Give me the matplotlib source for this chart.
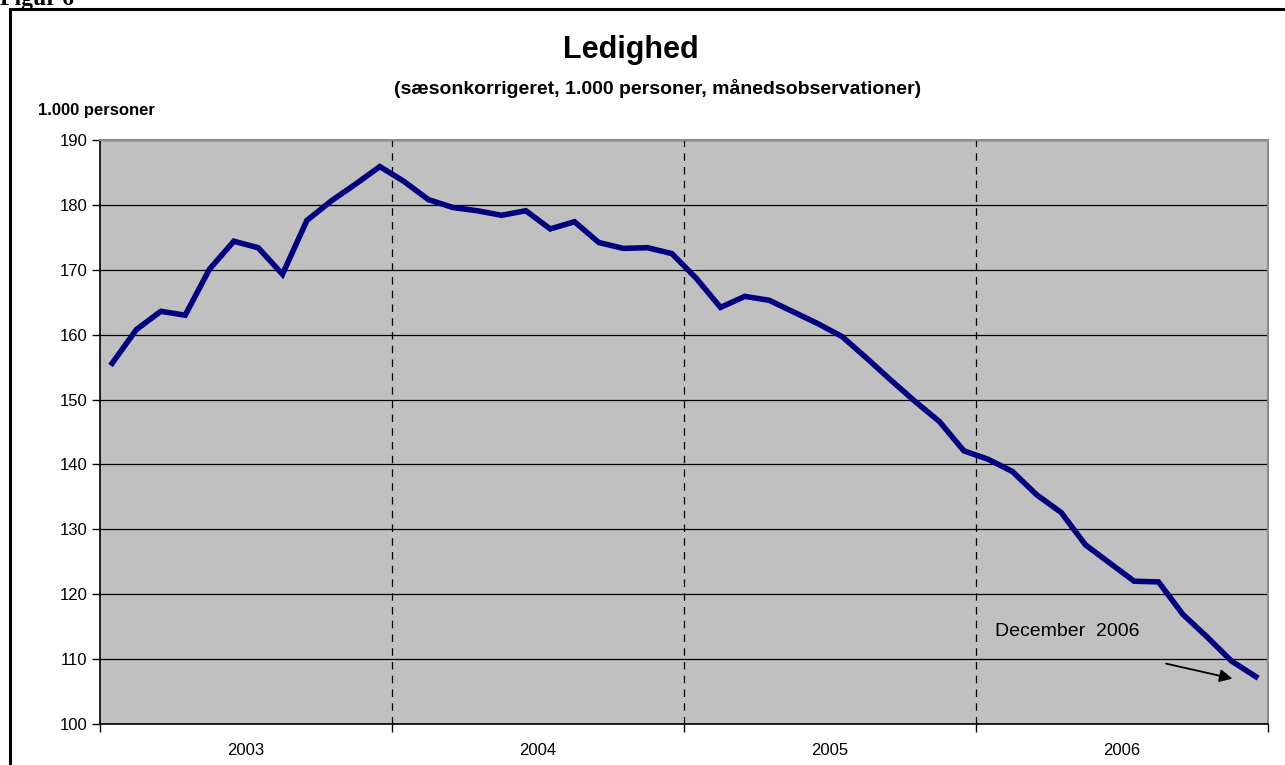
import numpy as np
import matplotlib
matplotlib.use('Agg')
import matplotlib.pyplot as plt
from matplotlib.patches import Rectangle

plt.rcParams['font.family'] = ['Liberation Sans', 'DejaVu Sans']

# monthly unemployment, seasonally adjusted (1.000 persons), Jan 2003 - Dec 2006
years = ['2003', '2004', '2005', '2006']
ledighed = [
    155.6, 160.8, 163.6, 163.0, 170.1, 174.4, 173.4, 169.3, 177.6, 180.6, 183.2, 185.9,
    183.6, 180.8, 179.6, 179.1, 178.4, 179.1, 176.3, 177.4, 174.2, 173.3, 173.4, 172.5,
    168.7, 164.2, 165.9, 165.3, 163.5, 161.7, 159.7, 156.4, 153.0, 149.7, 146.6, 142.1,
    140.8, 138.9, 135.3, 132.6, 127.6, 124.8, 122.0, 121.9, 116.9, 113.4, 109.7, 107.3,
]
y_ticks = list(range(100, 191, 10))

W, H = 1285, 765
fig = plt.figure(figsize=(W / 100, H / 100), dpi=100)

# axes placed in pixel terms
left, right, top, bottom = 100, 1268, 140, 724
ax = fig.add_axes([left / W, 1 - bottom / H, (right - left) / W, (bottom - top) / H])
ax.set_facecolor('#c0c0c0')

x = np.arange(len(ledighed)) + 0.5
ax.plot(x, ledighed, color='#000080', linewidth=4.0, solid_joinstyle='miter', zorder=3)

ax.set_xlim(0, len(ledighed))
ax.set_ylim(100, 190)
ax.set_yticks(y_ticks)
ax.yaxis.grid(True, color='black', linewidth=0.9)
ax.set_axisbelow(True)

# year dividers
for b in [12, 24, 36]:
    ax.axvline(b, color='black', linewidth=0.9, linestyle=(0, (6, 5)), zorder=2)

ax.set_xticks([0, 12, 24, 36, 48])
ax.set_xticklabels([])
ax.set_xticks([6, 18, 30, 42], minor=True)
ax.set_xticklabels(years, minor=True)
ax.tick_params(axis='x', which='major', length=6, width=1, direction='out')
ax.tick_params(axis='x', which='minor', length=0, pad=14, labelsize=12)
ax.tick_params(axis='y', length=6, width=1, labelsize=12, pad=3)

for s in ['left', 'bottom']:
    ax.spines[s].set_color('black')
    ax.spines[s].set_linewidth(1.2)
for s in ['top', 'right']:
    ax.spines[s].set_color('#8c8c8c')
    ax.spines[s].set_linewidth(1.5)

ax.annotate('', xy=(46.65, 106.9), xytext=(43.7, 109.4),
            arrowprops=dict(arrowstyle='-|>', color='black', lw=1.3, mutation_scale=19))
ax.text(36.8, 114.3, 'December  2006', fontsize=14, va='center', ha='left')

# titles
fig.text(631 / W, 1 - 50 / H, 'Ledighed', fontsize=22, fontweight='bold', ha='center', va='center')
fig.text(658 / W, 1 - 89 / H, '(sæsonkorrigeret, 1.000 personer, månedsobservationer)',
         fontsize=14, fontweight='bold', ha='center', va='center')
fig.text(38 / W, 1 - 110 / H, '1.000 personer', fontsize=12, fontweight='bold', ha='left', va='center')

# cut-off figure label and frame
fig.text(0, 1 - 5 / H, 'Figur 6', fontsize=17, fontweight='bold', family='Liberation Serif',
         ha='left', va='baseline')
fig.add_artist(Rectangle((10 / W, -0.05), 1.1, 1 - 9 / H + 0.05, transform=fig.transFigure,
                         fill=False, edgecolor='black', linewidth=2.2))

fig.savefig('out.png', dpi=100)
